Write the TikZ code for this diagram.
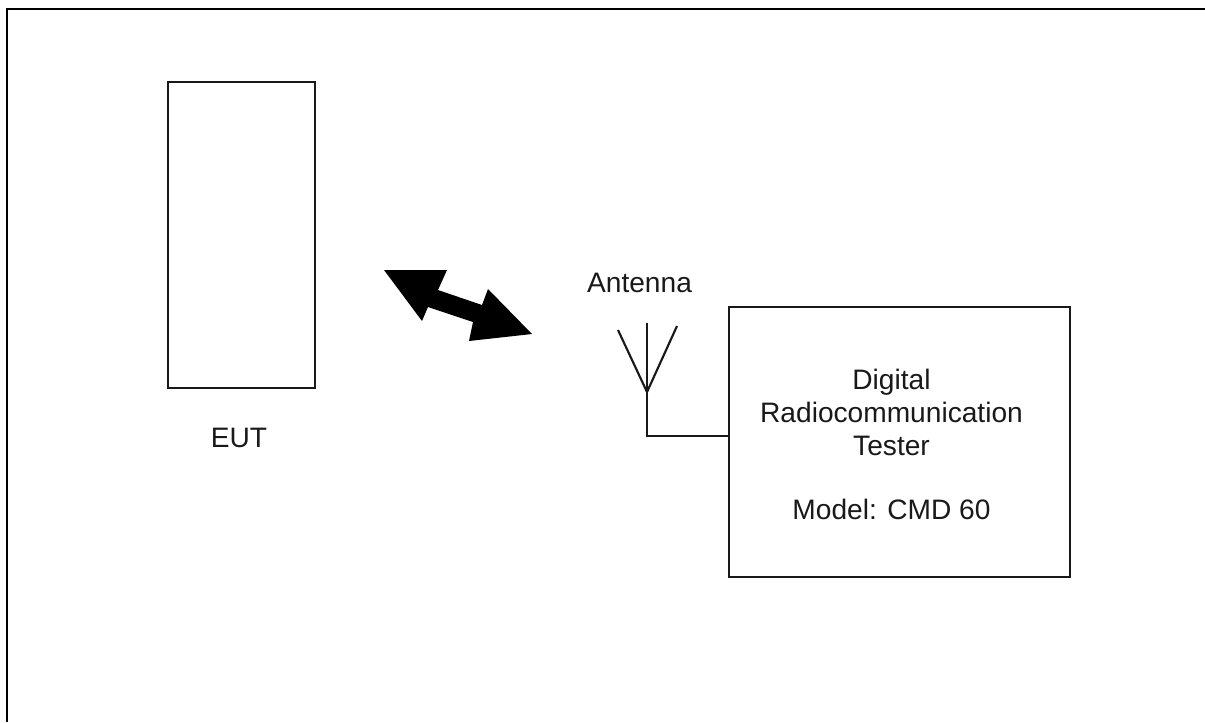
\documentclass[tikz,border=0pt]{standalone}
\usepackage{fontspec}
\setmainfont{Liberation Sans}
\tikzset{
  px/.style={x=0.75pt,y=-0.75pt},
  linew/.style={line width=1.6pt,draw=black!90},
  framew/.style={line width=2pt,draw=black},
  boxn/.style={linew,inner sep=0pt,fill=white},
  lbl/.style={inner sep=0pt,anchor=base,font=\fontsize{21.1pt}{24pt}\selectfont,text=black!90},
}
\begin{document}
\begin{tikzpicture}[px]
\useasboundingbox (0,0) rectangle (1205,722);
\coordinate (fa) at (7,722);
\coordinate (fb) at (7,9);
\coordinate (fc) at (1205,9);
\draw[framew] (fa) -- (fb) -- (fc);
\node[boxn,minimum width=110.25pt,minimum height=229.5pt] (eut) at (241.5,235) {};
\node[boxn,minimum width=255.75pt,minimum height=202.5pt] (tester) at (899.5,442) {};
\node[lbl] (eutl) at (239,447) {EUT};
\node[lbl] (ant) at (639.5,292) {Antenna};
\node[lbl] (t1) at (891.5,389) {Digital};
\node[lbl] (t2) at (891.5,422) {Radiocommunication};
\node[lbl] (t3) at (891.5,455) {Tester};
\node[lbl] (t4) at (891.5,519) {Model: CMD 60};
\coordinate (atop) at (647,323);
\coordinate (ajoin) at (647,392);
\coordinate (acorner) at (647,436);
\coordinate (aleft) at (618,330);
\coordinate (aright) at (677,326);
\draw[linew] (atop) -- (acorner) -- (tester.west |- acorner);
\draw[linew] (aleft) -- (ajoin) -- (aright);
\fill[black] (384,270) -- (447,270) -- (438,290) -- (482,305) -- (488,289) -- (532,334) -- (469,341) -- (473,322) -- (428,307) -- (422,321) -- cycle;
\end{tikzpicture}
\end{document}
